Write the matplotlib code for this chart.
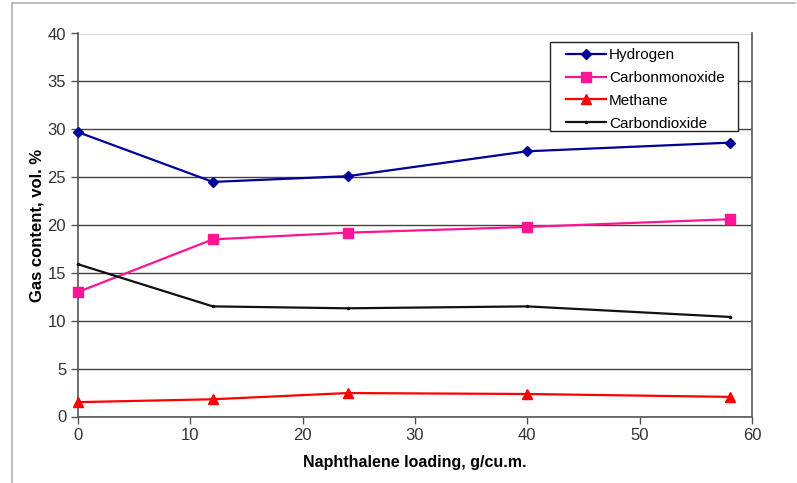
import matplotlib
matplotlib.use("Agg")
import matplotlib.pyplot as plt
from matplotlib.lines import Line2D
from matplotlib.patches import Rectangle

plt.rcParams['font.family'] = ['Liberation Sans', 'DejaVu Sans']

loading = [0, 12, 24, 40, 58]
hydrogen = [29.7, 24.5, 25.1, 27.7, 28.6]
carbon_monoxide = [13.0, 18.5, 19.2, 19.8, 20.6]
methane = [1.5, 1.8, 2.45, 2.35, 2.05]
carbon_dioxide = [15.9, 11.5, 11.3, 11.5, 10.4]

W, H = 797, 483
fig = plt.figure(figsize=(W / 100, H / 100), dpi=100)
fig.patch.set_facecolor('white')

# outer chart border (left and top visible)
fig.add_artist(Line2D([12 / W, 12 / W], [0, 1 - 3 / H], color='#b0b0b0', lw=1.2))
fig.add_artist(Line2D([12 / W, 795 / W], [1 - 3 / H, 1 - 3 / H], color='#b0b0b0', lw=1.2))

left, right, top, bottom = 78, 752, 33.5, 416.5
ax = fig.add_axes([left / W, 1 - bottom / H, (right - left) / W, (bottom - top) / H])


def ax_x(px):
    return (px - left) / (right - left)


def ax_y(py):
    return 1 - (py - top) / (bottom - top)


ax.plot(loading, hydrogen, color='#000099', marker='D', ms=5.5, lw=1.6, label='Hydrogen', clip_on=False, zorder=3)
ax.plot(loading, carbon_monoxide, color='#ff1493', marker='s', ms=6.5, lw=1.6, label='Carbonmonoxide', clip_on=False, zorder=3)
ax.plot(loading, methane, color='#ff0000', marker='^', ms=7.5, lw=1.6, label='Methane', clip_on=False, zorder=3)
ax.plot(loading, carbon_dioxide, color='#111111', marker='o', ms=1.5, lw=1.6, label='Carbondioxide', clip_on=False, zorder=3)

ax.set_xlim(0, 60)
ax.set_ylim(0, 40)
ax.set_xticks(range(0, 61, 10))
ax.set_yticks(range(0, 41, 5))
ax.grid(axis='y', color='#444444', lw=1.0)
ax.set_axisbelow(True)
for s in ['left', 'bottom', 'right']:
    ax.spines[s].set_color('#555555')
    ax.spines[s].set_linewidth(1.2)
ax.spines['top'].set_visible(False)
ax.tick_params(axis='both', colors='#555555', labelcolor='#333333', labelsize=12, length=5, width=1.0)
ax.tick_params(axis='x', pad=3)

ax.set_xlabel('Naphthalene loading, g/cu.m.', fontsize=11.5, fontweight='bold', labelpad=9)
ax.set_ylabel('Gas content, vol. %', fontsize=12, fontweight='bold', labelpad=2)

# legend frame
frame = Rectangle((ax_x(550), ax_y(131)), ax_x(738) - ax_x(550), ax_y(42) - ax_y(131),
                  transform=ax.transAxes, facecolor='white', edgecolor='#222222', lw=1.0, zorder=4)
ax.add_patch(frame)

leg = ax.legend(loc='upper left', bbox_to_anchor=(ax_x(566), ax_y(48)),
                fontsize=11, frameon=False,
                handlelength=2.6, handletextpad=0.2, labelspacing=0.58, borderpad=0,
                borderaxespad=0)
leg.set_zorder(6)

fig.savefig('out.png', dpi=100)
